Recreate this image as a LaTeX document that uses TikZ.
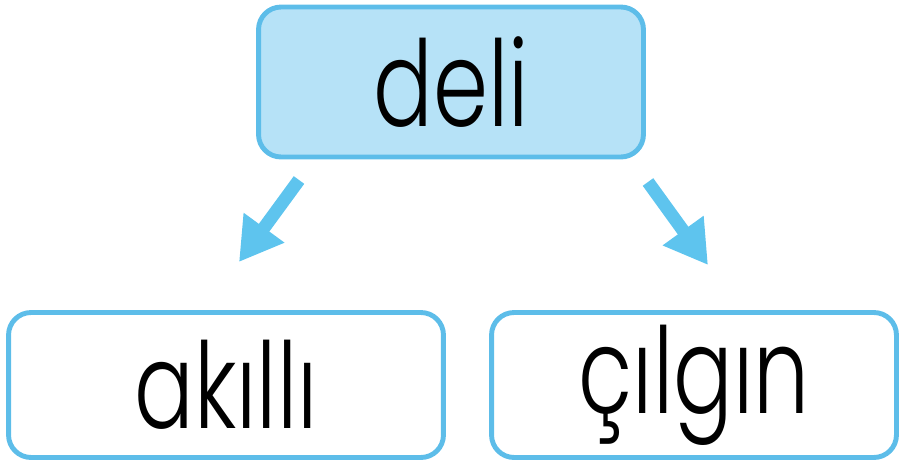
\documentclass[tikz,border=0pt]{standalone}
\usepackage{fontspec}
\setmainfont{Poppins}[UprightFont=* Light,FakeStretch=0.74]
\usetikzlibrary{arrows.meta}
\definecolor{hellblau}{HTML}{B6E2F7}
\definecolor{randblau}{HTML}{5DBDE9}
\definecolor{pfeilblau}{HTML}{5EC4EE}
\def\s{0.02}
\def\punkt#1#2{({(#1)*\s},{-(#2)*\s})}

\begin{document}
\begin{tikzpicture}[thick,
  kasten/.style={draw=randblau,line width=2.8pt,rounded corners=0.45cm,
    inner sep=0pt,font=\fontsize{68}{70}\selectfont},
  pfeil/.style={draw=pfeilblau,line width=0.26cm,
    -{Triangle[length=0.85cm,width=0.95cm]}}]
\useasboundingbox \punkt{0}{0} rectangle \punkt{902}{468};
\node[kasten,fill=hellblau,minimum width=7.7cm,minimum height=3.0cm] (deli) at \punkt{451}{82} {deli};
\node[kasten,minimum width=8.7cm,minimum height=2.9cm] (akilli) at \punkt{226}{385} {akıllı};
\node[kasten,minimum width=8.1cm,minimum height=2.9cm] (cilgin) at \punkt{694}{385} {çılgın};
% pfeile
\path \punkt{299}{180} coordinate (l1) \punkt{239}{262} coordinate (l2);
\path \punkt{648}{182} coordinate (r1) \punkt{708}{265} coordinate (r2);
\draw[pfeil] (l1) -- (l2);
\draw[pfeil] (r1) -- (r2);
\end{tikzpicture}
\end{document}
